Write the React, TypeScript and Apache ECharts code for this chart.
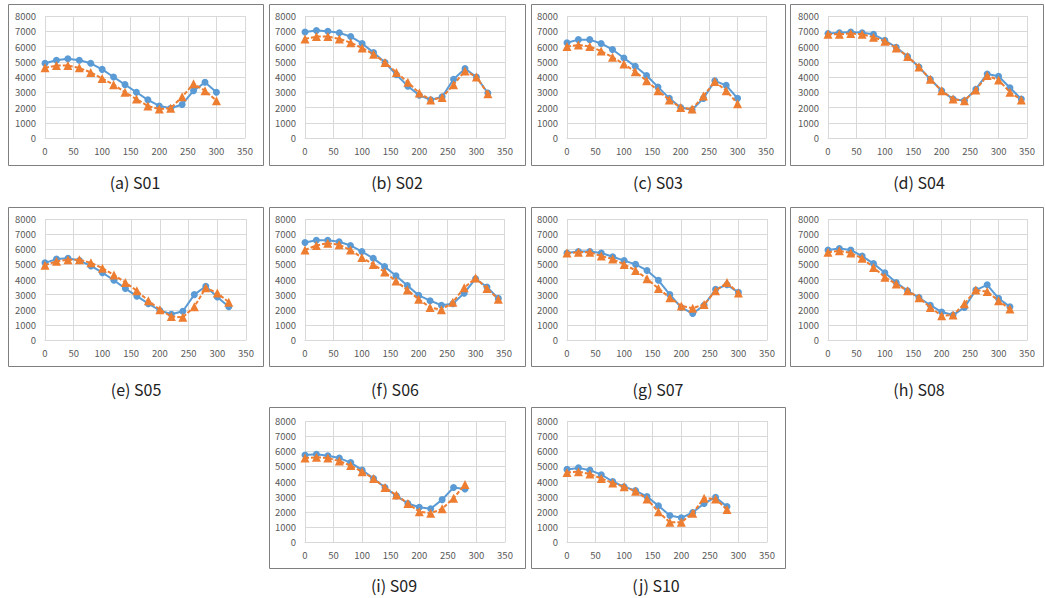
import React, { useEffect, useRef } from "react";
import * as echarts from "echarts";

// x positions (shared)
const xValues = [0, 20, 40, 60, 80, 100, 120, 140, 160, 180, 200, 220, 240, 260, 280, 300, 320, 340];
const xTicks = [0, 50, 100, 150, 200, 250, 300, 350];
const yTicks = [0, 1000, 2000, 3000, 4000, 5000, 6000, 7000, 8000];

const captions = ["(a) S01", "(b) S02", "(c) S03", "(d) S04", "(e) S05", "(f) S06", "(g) S07", "(h) S08", "(i) S09", "(j) S10"];

// blue (circles, solid) series
const blueS01 = [4900, 5100, 5200, 5100, 4900, 4500, 4000, 3500, 3000, 2500, 2100, 1950, 2200, 3100, 3650, 3000];
const blueS02 = [6950, 7050, 7000, 6900, 6650, 6200, 5600, 4950, 4150, 3400, 2800, 2500, 2700, 3850, 4550, 4000, 2950];
const blueS03 = [6250, 6450, 6450, 6200, 5800, 5250, 4700, 4100, 3350, 2600, 2000, 1850, 2600, 3750, 3450, 2600];
const blueS04 = [6850, 6900, 6950, 6900, 6800, 6400, 5950, 5350, 4650, 3850, 3100, 2550, 2450, 3200, 4200, 4050, 3300, 2550];
const blueS05 = [5100, 5350, 5400, 5250, 4900, 4450, 3950, 3400, 2900, 2400, 1950, 1700, 1900, 3000, 3550, 2850, 2200];
const blueS06 = [6450, 6600, 6600, 6500, 6250, 5850, 5400, 4850, 4250, 3600, 2950, 2600, 2300, 2400, 3100, 4050, 3500, 2750];
const blueS07 = [5750, 5850, 5850, 5750, 5500, 5250, 5000, 4600, 3950, 3000, 2150, 1750, 2300, 3350, 3650, 3150];
const blueS08 = [5950, 6050, 5950, 5550, 5050, 4450, 3800, 3250, 2800, 2300, 1850, 1650, 2150, 3300, 3650, 2750, 2200];
const blueS09 = [5750, 5800, 5700, 5550, 5250, 4750, 4200, 3600, 3050, 2550, 2300, 2200, 2800, 3600, 3500];
const blueS10 = [4800, 4900, 4750, 4450, 4000, 3650, 3400, 3000, 2400, 1750, 1600, 1950, 2550, 2950, 2350];

// orange (triangles, dashed) series
const orangeS01 = [4600, 4750, 4750, 4600, 4300, 3900, 3500, 3000, 2550, 2100, 1900, 1950, 2700, 3550, 3100, 2450];
const orangeS02 = [6500, 6650, 6650, 6500, 6250, 5900, 5500, 4950, 4300, 3650, 2950, 2500, 2650, 3500, 4400, 4000, 2900];
const orangeS03 = [6000, 6100, 6000, 5700, 5300, 4850, 4350, 3750, 3100, 2500, 2000, 1900, 2750, 3700, 3100, 2250];
const orangeS04 = [6800, 6800, 6850, 6800, 6600, 6350, 5900, 5350, 4650, 3850, 3100, 2550, 2450, 3150, 4100, 3800, 3000, 2500];
const orangeS05 = [4950, 5200, 5300, 5300, 5100, 4750, 4300, 3800, 3250, 2600, 2000, 1550, 1500, 2200, 3450, 3100, 2500];
const orangeS06 = [5950, 6250, 6400, 6300, 5950, 5450, 5000, 4500, 3900, 3300, 2700, 2150, 2000, 2500, 3450, 4100, 3400, 2700];
const orangeS07 = [5750, 5800, 5800, 5550, 5350, 5000, 4600, 4050, 3400, 2800, 2250, 2100, 2350, 3250, 3800, 3100];
const orangeS08 = [5800, 5900, 5750, 5400, 4800, 4150, 3700, 3250, 2800, 2150, 1600, 1650, 2400, 3300, 3200, 2600, 2050];
const orangeS09 = [5550, 5600, 5550, 5350, 5050, 4650, 4200, 3600, 3100, 2550, 2000, 1900, 2200, 2900, 3800];
const orangeS10 = [4600, 4650, 4500, 4200, 3900, 3650, 3350, 2850, 2000, 1300, 1300, 1900, 2900, 2850, 2150];

const blueSets = [blueS01, blueS02, blueS03, blueS04, blueS05, blueS06, blueS07, blueS08, blueS09, blueS10];
const orangeSets = [orangeS01, orangeS02, orangeS03, orangeS04, orangeS05, orangeS06, orangeS07, orangeS08, orangeS09, orangeS10];

// layout: [gridLeft, gridTop, gridWidth, gridHeight, boxLeft, boxTop, boxRight, boxBottom, captionX, captionY]
const layout = [
  [45, 16, 200, 122, 8, 4, 263, 165, 135, 182],
  [305, 16, 200, 122, 269, 4, 525, 165, 397, 182],
  [567, 16, 199, 122, 531, 4, 785, 165, 658, 182],
  [828, 16, 199, 122, 790, 4, 1043, 165, 919, 182],
  [45, 219, 201, 121, 8, 207, 263, 366, 136, 389],
  [305, 219, 199, 121, 269, 207, 525, 366, 395, 389],
  [567, 219, 200, 121, 531, 207, 785, 366, 658, 389],
  [828, 219, 199, 121, 790, 207, 1043, 366, 919, 389],
  [305, 421, 200, 121, 269, 407, 525, 568, 394, 585],
  [567, 421, 200, 121, 531, 407, 785, 568, 656, 585],
];

const BLUE = "#5B9BD5";
const ORANGE = "#ED7D31";
const FONT = "'Noto Sans CJK KR', 'Noto Sans', sans-serif";

export default function App() {
  const ref = useRef<HTMLDivElement>(null);

  useEffect(() => {
    if (!ref.current) return;
    const chart = echarts.init(ref.current, undefined, { renderer: "svg" });

    const grid: any[] = [];
    const xAxis: any[] = [];
    const yAxis: any[] = [];
    const series: any[] = [];
    const graphic: any[] = [];

    layout.forEach((l, i) => {
      const [gl, gt, gw, gh, bl, bt, br, bb, cx, cy] = l;
      grid.push({ left: gl, top: gt, width: gw, height: gh, containLabel: false });
      xAxis.push({
        type: "value",
        gridIndex: i,
        min: xTicks[0],
        max: xTicks[xTicks.length - 1],
        interval: 50,
        axisLine: { show: true, lineStyle: { color: "#d9d9d9", width: 1 } },
        axisTick: { show: false },
        axisLabel: { color: "#595959", fontSize: 9.5, fontFamily: FONT, margin: 8, formatter: (v: number) => String(v) },
        splitLine: { show: true, lineStyle: { color: "#d9d9d9", width: 1 } },
      });
      yAxis.push({
        type: "value",
        gridIndex: i,
        min: yTicks[0],
        max: yTicks[yTicks.length - 1],
        interval: 1000,
        axisLine: { show: false },
        axisTick: { show: false },
        axisLabel: { color: "#595959", fontSize: 9.5, fontFamily: FONT, margin: 9, formatter: (v: number) => String(v) },
        splitLine: { show: true, lineStyle: { color: "#d9d9d9", width: 1 } },
      });
      const b = blueSets[i];
      const o = orangeSets[i];
      series.push({
        type: "line",
        xAxisIndex: i,
        yAxisIndex: i,
        data: b.map((v, k) => [xValues[k], v]),
        symbol: "circle",
        symbolSize: 7,
        itemStyle: { color: BLUE },
        lineStyle: { color: BLUE, width: 2 },
        z: 3,
      });
      series.push({
        type: "line",
        xAxisIndex: i,
        yAxisIndex: i,
        data: o.map((v, k) => [xValues[k], v]),
        symbol: "triangle",
        symbolSize: 9,
        itemStyle: { color: ORANGE },
        lineStyle: { color: ORANGE, width: 2, type: [4, 2] },
        z: 4,
      });
      graphic.push({
        type: "rect",
        shape: { x: bl + 0.5, y: bt + 0.5, width: br - bl, height: bb - bt },
        style: { fill: "none", stroke: "#7f7f7f", lineWidth: 1 },
        silent: true,
      });
      graphic.push({
        type: "text",
        x: cx,
        y: cy,
        style: {
          text: captions[i],
          fill: "#222222",
          fontSize: 16,
          fontFamily: FONT,
          align: "center",
          verticalAlign: "middle",
        },
      });
    });

    chart.setOption({
      animation: false,
      backgroundColor: "#ffffff",
      grid,
      xAxis,
      yAxis,
      series,
      graphic,
    });

    return () => chart.dispose();
  }, []);

  return (
    <div
      ref={ref}
      style={{ position: "absolute", left: 0, top: 0, width: 1045, height: 598 }}
    />
  );
}
